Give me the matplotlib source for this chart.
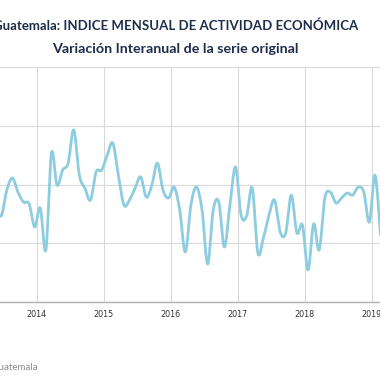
import numpy as np
import matplotlib.pyplot as plt

# IMAE Guatemala - variacion interanual (aprox.), mensual desde jun-2013
inicio_anio = 2013
inicio_mes = 6
variacion = [3.30, 2.93, 3.81, 4.22, 3.74, 3.40, 3.34,
             2.55, 3.20, 1.77, 5.07, 3.98, 4.49, 4.73, 5.86, 4.32, 3.88, 3.47, 4.43,
             4.49, 5.00, 5.41, 4.32, 3.30, 3.47, 3.88, 4.26, 3.57, 3.98, 4.73, 3.81,
             3.54, 3.91, 3.13, 1.70, 3.30, 3.91, 3.13, 1.29, 3.13, 3.40, 1.87, 3.30,
             4.60, 2.96, 2.93, 3.88, 1.67, 2.18, 2.96, 3.47, 2.38, 2.35, 3.64, 2.35,
             2.62, 1.09, 2.66, 1.77, 3.54, 3.74, 3.37, 3.54, 3.71, 3.64, 3.91, 3.74,
             2.72, 4.32, 2.28]
anios = [2014, 2015, 2016, 2017, 2018, 2019]

titulo = "Guatemala: INDICE MENSUAL DE ACTIVIDAD ECONÓMICA"
subtitulo = "Variación Interanual de la serie original"
fuente = "Fuente: Banco de Guatemala"

# meses desde ene-2014
x = np.arange(len(variacion)) + (inicio_anio - 2014) * 12 + (inicio_mes - 1)
y = np.array(variacion)


def suavizar(xs, ys, n=12):
    # curva tipo spline (Catmull-Rom) solo para dibujar
    p = np.column_stack([xs, ys]).astype(float)
    p = np.vstack([p[0], p, p[-1]])
    out = []
    t = np.linspace(0, 1, n, endpoint=False)[:, None]
    for i in range(1, len(p) - 2):
        p0, p1, p2, p3 = p[i - 1], p[i], p[i + 1], p[i + 2]
        seg = 0.5 * ((2 * p1) + (-p0 + p2) * t + (2 * p0 - 5 * p1 + 4 * p2 - p3) * t ** 2
                     + (-p0 + 3 * p1 - 3 * p2 + p3) * t ** 3)
        out.append(seg)
    out.append(p[-2][None, :])
    out = np.vstack(out)
    return out[:, 0], out[:, 1]


fig = plt.figure(figsize=(3.8, 3.8), dpi=100)
ax = fig.add_axes([0, 78 / 380, 1, 235 / 380])

xs, ys = suavizar(x, y)
ax.plot(xs, ys, color='#8ecde0', lw=2.0, solid_capstyle='round')

tick_pos = [(a - 2014) * 12 + 0.4 for a in anios]
ax.set_xticks(tick_pos)
ax.set_xticklabels([str(a) for a in anios], fontsize=5.8, color='#333333')
ax.set_xlim(-6.22, 61.9)
ax.set_ylim(0, 8)
ax.set_yticks([0, 2, 4, 6, 8])
ax.set_yticklabels([])
ax.tick_params(axis='both', length=0, pad=6)
ax.grid(True, color='#d9d9d9', lw=0.8)
ax.set_axisbelow(True)
for s in ['left', 'right', 'top']:
    ax.spines[s].set_visible(False)
ax.spines['bottom'].set_color('#b0b0b0')
ax.spines['bottom'].set_linewidth(1.0)

fig.text(176 / 380, 1 - 26 / 380, titulo, ha='center', va='center',
         fontsize=9.5, fontweight='bold', color='#1f2d4d', family='Lato')
fig.text(175 / 380, 1 - 49 / 380, subtitulo, ha='center', va='center',
         fontsize=10.3, fontweight='bold', color='#1f2d4d', family='Lato')
fig.text(37 / 380, 1 - 367 / 380, fuente, ha='right', va='center',
         fontsize=7, color='#8a8a8a', family='Lato')

fig.savefig('out.png', dpi=100)
